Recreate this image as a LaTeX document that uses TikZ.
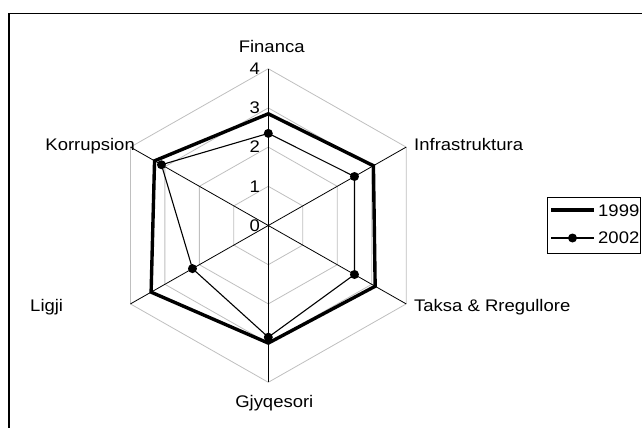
\documentclass[tikz,border=0pt]{standalone}
\usepackage{fontspec}
\setmainfont{Liberation Sans}[FakeStretch=1.1]
\usepackage{xcolor}
\usetikzlibrary{positioning,calc}

\tikzset{
  frame/.style={line width=1.3pt},
  gridline/.style={black!25, line width=0.8pt},
  spoke/.style={black, line width=0.8pt},
  ticklabel/.style={anchor=east, inner sep=0pt, xshift=-8.3pt},
  series1999/.style={black, line width=3.4pt, line join=miter},
  series2002/.style={black, line width=1.1pt, line join=miter},
  axislabel/.style={inner sep=0pt},
  legendbox/.style={line width=0.8pt},
}

\begin{document}
\begin{tikzpicture}[x=1pt, y=-1pt, font=\fontsize{16.8}{19}\selectfont]
\useasboundingbox (0,0) rectangle (642,428);
\clip (0,0) rectangle (642,428);
% --- Chart frame (runs off at right and bottom) ---
\draw[frame] (9,13.5) rectangle (660,445);

% --- Radar: grid, spokes, scale ---
\begin{scope}[shift={(268.3,225.5)}, x=39.8pt, y=39.2pt]
  \foreach \r in {1,...,4}
    \draw[gridline] (90:\r) -- (30:\r) -- (-30:\r) -- (-90:\r)
      -- (-150:\r) -- (150:\r) -- cycle;
  \foreach \a in {90,30,-30,-90,-150,150}
    \draw[spoke] (0,0) -- (\a:4);
  \foreach \v in {0,...,4}
    \node[ticklabel] (tick\v) at (0,\v) {\v};
  % 1999 series (thick)
  \draw[series1999] (90:2.85) -- (30:3.05) -- (-30:3.1) -- (-90:3.0)
    -- (-150:3.4) -- (150:3.3) -- cycle;
  % 2002 series (thin, with markers)
  \draw[series2002] (90:2.35) -- (30:2.5) -- (-30:2.5) -- (-90:2.85)
    -- (-150:2.2) -- (150:3.1) -- cycle;
  \foreach \a/\r in {90/2.35, 30/2.5, -30/2.5, -90/2.85, -150/2.2, 150/3.1}
    \fill (\a:\r) circle (4.5pt);
\end{scope}

% --- Category labels ---
\node[axislabel, anchor=base] (financa) at (271.7,52.7) {Financa};
\node[axislabel, anchor=base west] (infra) at (414,150) {Infrastruktura};
\node[axislabel, anchor=base west] (taksa) at (414,311.5) {Taksa \& Rregullore};
\node[axislabel, anchor=base] (gjyq) at (274.3,407.3) {Gjyqesori};
\node[axislabel, anchor=base east] (ligji) at (63.3,311.5) {Ligji};
\node[axislabel, anchor=base east] (korr) at (135,150.5) {Korrupsion};

% --- Legend ---
\draw[legendbox] (547,197) rectangle (640.5,253);
\coordinate (l1a) at (551,210);
\coordinate (l1b) at (594,210);
\coordinate (l2a) at (551,238);
\coordinate (l2b) at (594,238);
\draw[series1999, line cap=butt] (l1a) -- (l1b);
\draw[series2002] (l2a) -- (l2b);
\fill ($(l2a)!0.5!(l2b)$) circle (4.5pt);
\node[axislabel, anchor=base west] (leg1999) at (598,216) {1999};
\node[axislabel, anchor=base west] (leg2002) at (598,243.5) {2002};
\end{tikzpicture}
\end{document}
